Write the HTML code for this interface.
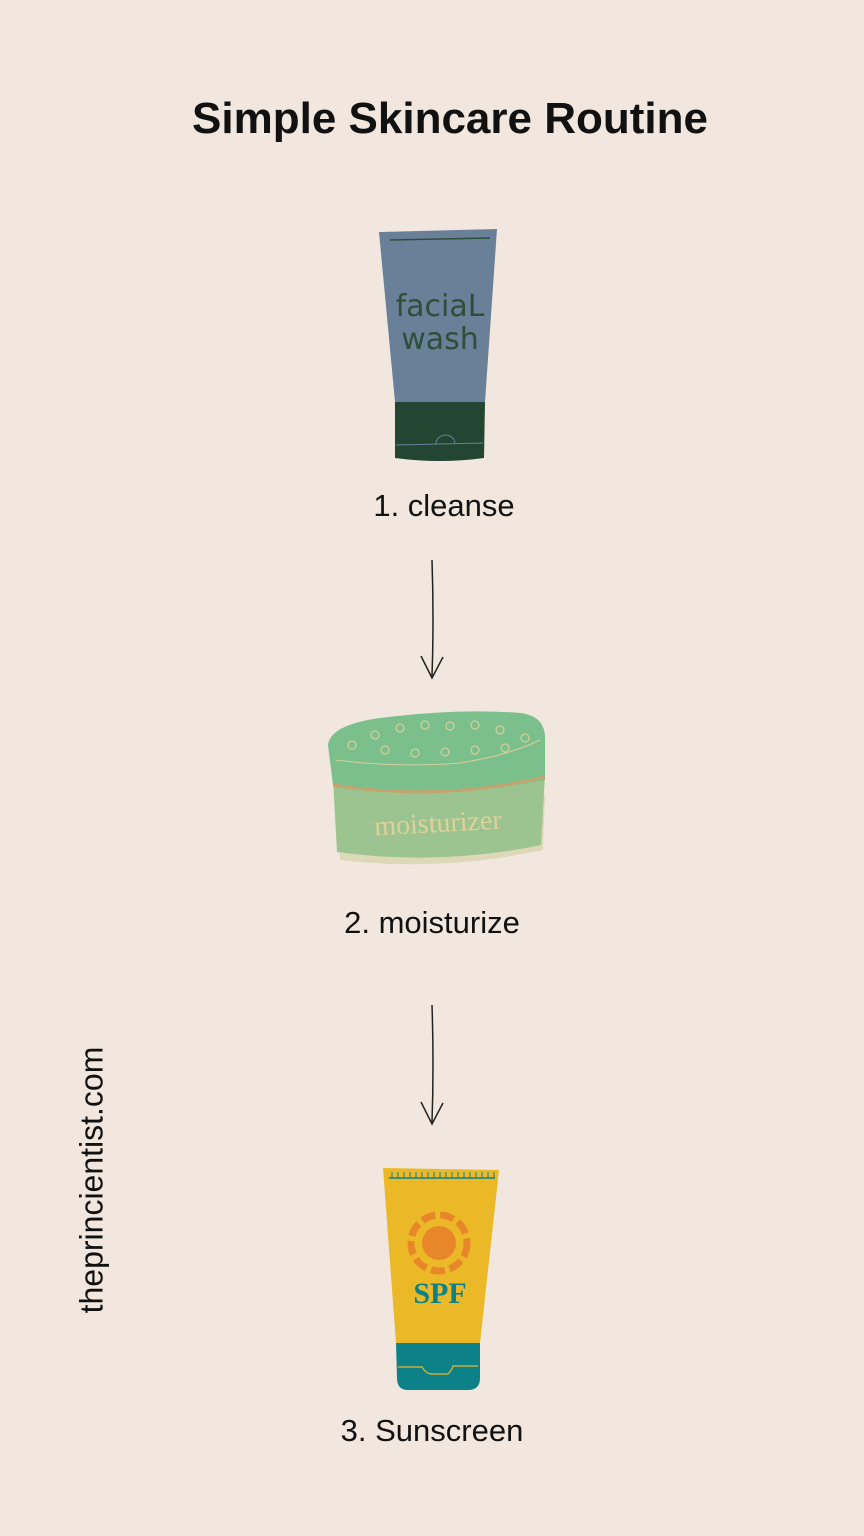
<!DOCTYPE html>
<html><head><meta charset="utf-8"><style>
html,body{margin:0;padding:0}
body{width:864px;height:1536px;background:#f1e7de;position:relative;overflow:hidden;font-family:"Liberation Sans",sans-serif;color:#111}
.t{position:absolute;white-space:nowrap}
</style></head><body>
<div class="t" style="left:0;width:900px;text-align:center;top:94px;font-size:44px;font-weight:bold;">Simple Skincare Routine</div>
<div class="t" style="left:0;width:888px;text-align:center;top:488px;font-size:31px;">1. cleanse</div>
<div class="t" style="left:0;width:864px;text-align:center;top:905px;font-size:31px;">2. moisturize</div>
<div class="t" style="left:0;width:864px;text-align:center;top:1413px;font-size:31px;">3. Sunscreen</div>
<div class="t" style="left:92px;top:1180px;font-size:32px;transform:translate(-50%,-50%) rotate(-90deg);">theprincientist.com</div>
<svg width="864" height="1536" style="position:absolute;left:0;top:0">
<!-- facial wash -->
<path d="M379 232 L497 229 L485 402 L395 402 Z" fill="#6a8099"/>
<path d="M395 402 L485 402 L484 458 Q440 464 395 458 Z" fill="#234632"/>
<line x1="390" y1="240" x2="490" y2="238" stroke="#2e4e3a" stroke-width="1.5"/>
<path d="M396 445 L483 443" stroke="#6a8099" stroke-width="1"/>
<path d="M436 444 A9 8 0 0 1 455 443" stroke="#6a8099" fill="none" stroke-width="1"/>
<text x="440" y="316" text-anchor="middle" font-family="DejaVu Sans" font-size="30" fill="#2e4e3a">faciaL</text>
<text x="440" y="349" text-anchor="middle" font-family="DejaVu Sans" font-size="30" fill="#2e4e3a">wash</text>
<!-- arrows -->
<path d="M432 560 Q434 620 432 676" stroke="#222" stroke-width="1.5" fill="none"/>
<path d="M421 656 L432 678 L443 657" stroke="#222" stroke-width="1.5" fill="none"/>
<path d="M432 1005 Q434 1065 432 1122" stroke="#222" stroke-width="1.5" fill="none"/>
<path d="M421 1102 L432 1124 L443 1103" stroke="#222" stroke-width="1.5" fill="none"/>
<!-- moisturizer -->
<path d="M336 800 L545 795 L543 850 Q440 872 340 860 Z" fill="#ddd8b8"/>
<path d="M333 780 L545 775 L541 845 Q440 866 337 852 Z" fill="#9bc490"/>
<path d="M328 745 Q330 725 380 718 Q460 708 520 713 Q546 716 545 740 L545 780 Q440 800 333 785 Z" fill="#7bbf8d"/>
<path d="M333 785 Q440 802 545 777" stroke="#c4a46e" stroke-width="3" fill="none"/>
<path d="M335 760 Q400 768 460 763 Q510 755 540 740" stroke="#d8cf9a" stroke-width="1" fill="none"/>
<g fill="none" stroke="#d8cf9a" stroke-width="1.2">
<circle cx="352" cy="745" r="4"/><circle cx="375" cy="735" r="4"/><circle cx="400" cy="728" r="4"/><circle cx="425" cy="725" r="4"/><circle cx="450" cy="726" r="4"/><circle cx="475" cy="725" r="4"/><circle cx="500" cy="730" r="4"/><circle cx="525" cy="738" r="4"/>
<circle cx="385" cy="750" r="4"/><circle cx="415" cy="753" r="4"/><circle cx="445" cy="752" r="4"/><circle cx="475" cy="750" r="4"/><circle cx="505" cy="748" r="4"/>
</g>
<text x="438" y="832" text-anchor="middle" font-family="Liberation Serif" font-size="28" fill="#e0d09a" transform="rotate(-3 438 825)">moisturizer</text>
<!-- sunscreen -->
<path d="M383 1168 L499 1170 L480 1343 L396 1343 Z" fill="#ebb928"/>
<path d="M396 1343 L480 1343 L480 1378 Q480 1390 468 1390 L408 1390 Q397 1390 397 1378 Z" fill="#0c8288"/>
<line x1="389" y1="1178" x2="495" y2="1178" stroke="#0c8288" stroke-width="1.5"/>
<g stroke="#0c8288" stroke-width="1">
<path d="M392 1172v6M398 1172v6M404 1172v6M410 1172v6M416 1172v6M422 1172v6M428 1172v6M434 1172v6M440 1172v6M446 1172v6M452 1172v6M458 1172v6M464 1172v6M470 1172v6M476 1172v6M482 1172v6M488 1172v6M494 1172v6"/>
</g>
<circle cx="439" cy="1243" r="28" fill="none" stroke="#e8862a" stroke-width="7" stroke-dasharray="14 5"/>
<circle cx="439" cy="1243" r="17" fill="#e8862a"/>
<text x="440" y="1303" text-anchor="middle" font-family="Liberation Serif" font-weight="bold" font-size="30" fill="#0c8288">SPF</text>
<path d="M398 1367 L422 1367 Q426 1374 432 1374 L448 1374 Q452 1370 453 1366 L478 1366" stroke="#ebb928" stroke-width="1.2" fill="none"/>
</svg>
</body></html>
